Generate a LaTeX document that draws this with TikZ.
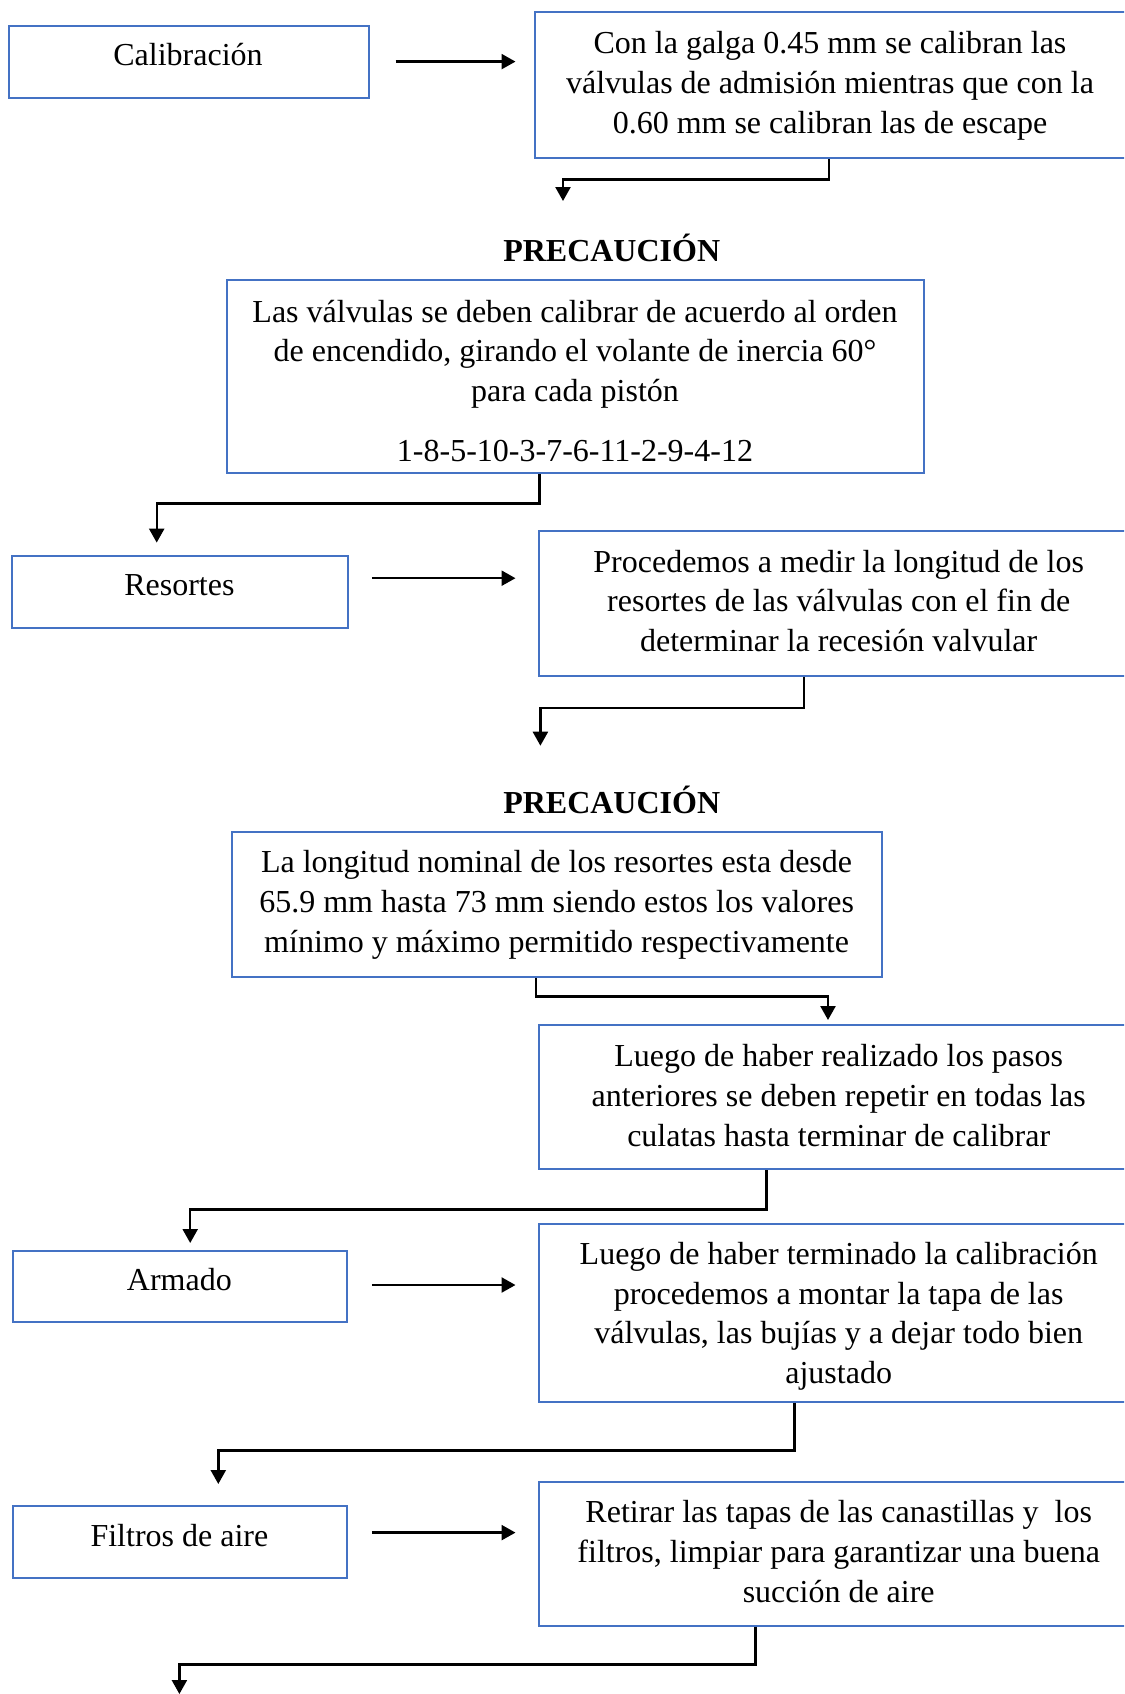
\documentclass[tikz,border=0pt]{standalone}
\usepackage{fontspec}
\setmainfont{Liberation Serif}
\usetikzlibrary{arrows.meta,fit}
\definecolor{boxblue}{HTML}{4472C4}
\begin{document}
\begin{tikzpicture}[x=1pt,y=-1pt,
  box/.style={draw=boxblue,line width=2pt,inner sep=0pt,rectangle},
  txt/.style={font=\fontsize{32pt}{39.7pt}\selectfont,align=center,inner sep=0pt},
  oneline/.style={txt,text height=0.7em,text depth=0.22em},
  head/.style={oneline,font=\fontsize{32pt}{39.7pt}\selectfont\bfseries},
  link/.style={draw=black,line width=2.4pt,-{Triangle[length=14pt,width=15pt]}}]
\useasboundingbox (0,0) rectangle (1124,1694);
\fill[white] (0,0) rectangle (1124,1694);
\clip (0,0) rectangle (1124,1694);

% ---- boxes ----
\node[box,fit={(8.6,25.9) (368.6,98.4)}] (cal) {};
\node[box,fit={(535,11.9) (1126,157.8)}] (b1) {};
\node[box,fit={(227,280) (924,473.4)}] (p1) {};
\node[box,fit={(11.9,555.5) (348,628)}] (res) {};
\node[box,fit={(539.3,530.7) (1140,675.5)}] (r1) {};
\node[box,fit={(232.4,832.2) (882,977)}] (p2) {};
\node[box,fit={(539.3,1024.6) (1140,1169.4)}] (l1) {};
\node[box,fit={(13,1250.5) (347,1321.8)}] (arm) {};
\node[box,fit={(539.3,1223.5) (1140,1401.8)}] (l2) {};
\node[box,fit={(13,1505.6) (347,1578)}] (fil) {};
\node[box,fit={(539.3,1481.8) (1140,1625.5)}] (f2) {};

% ---- texts ----
\node[oneline] (calT) at (188,63.5) {Calibración};
\node[txt] (b1T) at (830,86) {Con la galga 0.45 mm se calibran las\\válvulas de admisión mientras que con la\\0.60 mm se calibran las de escape};
\node[head] (prec1) at (611.7,259.5) {PRECAUCIÓN};
\node[txt] (p1T) at (575,381) {Las válvulas se deben calibrar de acuerdo al orden\\de encendido, girando el volante de inercia 60°\\para cada pistón\\[20.5pt]1-8-5-10-3-7-6-11-2-9-4-12};
\node[oneline] (resT) at (179.4,592.7) {Resortes};
\node[txt] (r1T) at (838.7,601) {Procedemos a medir la longitud de los\\resortes de las válvulas con el fin de\\determinar la recesión valvular};
\node[head] (prec2) at (611.7,811.5) {PRECAUCIÓN};
\node[txt] (p2T) at (556.6,905) {La longitud nominal de los resortes esta desde\\65.9 mm hasta 73 mm siendo estos los valores\\mínimo y máximo permitido respectivamente};
\node[txt] (l1T) at (838.7,1095.4) {Luego de haber realizado los pasos\\anteriores se deben repetir en todas las\\culatas hasta terminar de calibrar};
\node[oneline] (armT) at (179.4,1287.7) {Armado};
\node[txt] (l2T) at (838.7,1316.3) {Luego de haber terminado la calibración\\procedemos a montar la tapa de las\\válvulas, las bujías y a dejar todo bien\\ajustado};
\node[oneline] (filT) at (179.4,1543.8) {Filtros de aire};
\node[txt] (f2T) at (838.7,1551.5) {Retirar las tapas de las canastillas y\ \ los\\filtros, limpiar para garantizar una buena\\succión de aire};

% ---- horizontal arrows ----
\coordinate (h1s) at (395.6,61.6);  \coordinate (h1e) at (515.5,61.6);
\coordinate (h2s) at (371.8,578.2); \coordinate (h2e) at (515.5,578.2);
\coordinate (h3s) at (371.8,1285);  \coordinate (h3e) at (515.5,1285);
\coordinate (h4s) at (371.8,1532.6); \coordinate (h4e) at (515.5,1532.6);
\draw[link] (h1s) -- (h1e);
\draw[link] (h2s) -- (h2e);
\draw[link] (h3s) -- (h3e);
\draw[link] (h4s) -- (h4e);

% ---- elbow connectors ----
\coordinate (k1) at (829,179.4);   \coordinate (t1) at (563,201);
\coordinate (k2) at (539.3,503.6); \coordinate (t2) at (156.7,542.6);
\coordinate (k3) at (804,708);     \coordinate (t3) at (540.4,745.7);
\coordinate (k4) at (536,996.5);   \coordinate (t4) at (828,1020);
\coordinate (k5) at (766.3,1209.4); \coordinate (t5) at (190.2,1243);
\coordinate (k6) at (794.4,1450.4); \coordinate (t6) at (218.3,1484);
\coordinate (k7) at (755.5,1664.4); \coordinate (t7) at (179.4,1694);
\draw[link] (b1.south -| k1) -- (k1) -| (t1);
\draw[link] (p1.south -| k2) -- (k2) -| (t2);
\draw[link] (r1.south -| k3) -- (k3) -| (t3);
\draw[link] (p2.south -| k4) -- (k4) -| (t4);
\draw[link] (l1.south -| k5) -- (k5) -| (t5);
\draw[link] (l2.south -| k6) -- (k6) -| (t6);
\draw[link] (f2.south -| k7) -- (k7) -| (t7);
\end{tikzpicture}
\end{document}
